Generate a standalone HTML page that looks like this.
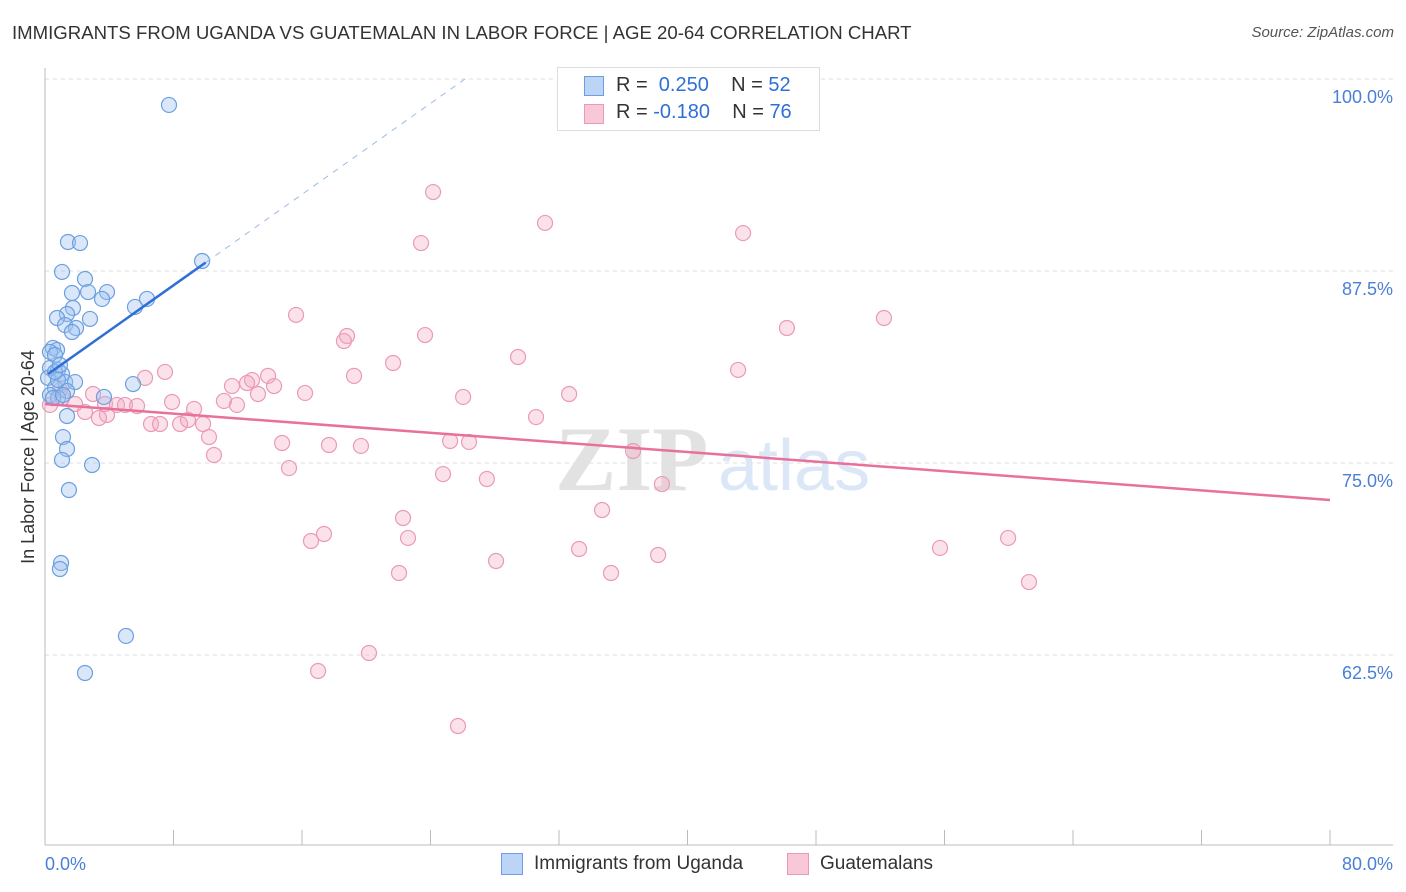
<!DOCTYPE html>
<html><head><meta charset="utf-8"><style>
body{margin:0;background:#fff;font-family:"Liberation Sans",sans-serif;}
#wrap{position:relative;width:1406px;height:892px;overflow:hidden;}
.t{position:absolute;white-space:nowrap;}
</style></head><body>
<div id="wrap">
<div class="t" style="left:12px;top:22px;font-size:18.6px;color:#333;">IMMIGRANTS FROM UGANDA VS GUATEMALAN IN LABOR FORCE | AGE 20-64 CORRELATION CHART</div>
<div class="t" style="right:12px;top:24px;font-size:15px;color:#555;font-style:italic;">Source: ZipAtlas.com</div>
<svg id="svg" width="1406" height="892" style="position:absolute;left:0;top:0;"></svg>
</div>
<script>
const blueX=[7.72,1.43,2.18,1.06,2.49,1.68,2.68,3.86,3.55,6.35,1.74,5.60,1.37,0.75,2.80,1.25,1.93,1.68,0.50,0.75,0.31,0.62,0.31,0.81,1.06,0.19,1.25,1.87,5.48,0.62,1.37,0.31,3.67,0.81,1.37,1.12,1.37,1.06,2.93,1.49,1.00,0.93,5.04,2.49,9.78,0.50,0.81,0.62,0.93,1.12];
const blueY=[98.31,89.39,89.32,87.44,86.98,86.07,86.13,86.13,85.68,85.68,85.09,85.16,84.70,84.44,84.38,83.98,83.79,83.53,82.49,82.36,82.23,82.03,81.19,81.06,80.80,80.54,80.27,80.27,80.14,79.88,79.69,79.43,79.30,79.23,78.06,76.69,75.91,75.20,74.87,73.24,68.49,68.10,63.74,61.33,88.15,79.23,80.40,80.93,81.38,79.43];
const pinkX=[24.16,31.13,43.46,23.41,15.63,46.19,52.23,23.66,18.80,18.61,29.45,21.67,43.15,7.47,19.24,6.23,13.89,12.89,12.58,11.64,14.26,13.26,16.19,2.99,26.03,32.63,7.91,11.14,3.74,4.48,4.98,5.73,9.28,11.95,1.87,1.06,2.49,3.86,3.36,30.57,6.60,7.16,8.41,8.90,9.84,10.21,14.76,17.68,19.67,25.22,26.40,36.61,10.52,15.19,24.78,27.51,38.41,34.68,22.29,17.37,16.56,22.60,33.25,38.17,28.08,22.04,35.24,55.72,59.96,61.26,20.17,17.00,25.71,0.31,0.93];
const pinkY=[92.64,90.63,89.97,89.32,84.64,83.79,84.44,83.33,83.27,82.94,81.90,81.51,81.06,80.93,80.67,80.54,80.67,80.40,80.21,80.01,80.01,79.49,79.56,79.49,79.30,79.49,78.97,79.04,78.84,78.78,78.78,78.71,78.52,78.78,78.84,79.23,78.32,78.13,77.93,77.99,77.54,77.54,77.54,77.80,77.54,76.69,76.30,76.17,76.11,76.43,76.37,75.78,75.52,74.67,74.28,73.96,73.63,71.94,71.42,70.38,69.92,70.12,69.40,69.01,68.62,67.84,67.84,69.47,70.12,67.25,62.63,61.46,57.88,78.78,79.75];
const yTicks=[100,87.5,75,62.5];
const yTickLabels=["100.0%","87.5%","75.0%","62.5%"];
const blueTrend=[80.65,0.74]; // intercept, slope
const pinkTrend=[78.84,-0.0781];
const X=v=>45+v/80*1285, Y=v=>79+(100-v)/12.5*192;
const NS="http://www.w3.org/2000/svg", svg=document.getElementById('svg');
function mk(t,a){const e=document.createElementNS(NS,t);for(const k in a)e.setAttribute(k,a[k]);svg.appendChild(e);return e;}
yTicks.forEach((v,i)=>{
 const g=mk('line',{x1:45,x2:1393,y1:Y(v),y2:Y(v),stroke:'#ddd','stroke-dasharray':'4,4'});
 
 
 const t=mk('text',{x:1393,y:Y(v)+24,'text-anchor':'end','font-size':18,fill:'#4a7fd6'});
 t.textContent=yTickLabels[i];
 
 
});
const ax=mk('line',{x1:45,x2:45,y1:68,y2:845,stroke:'#bbb'});


const bx=mk('line',{x1:45,x2:1393,y1:845,y2:845,stroke:'#bbb'});


for(let i=0;i<=10;i++){const l=mk('line',{x1:X(i*8),x2:X(i*8),y1:830,y2:845,stroke:'#bbb'});
 
 }
[["0.0%",45,'start'],["80.0%",1393,'end']].forEach(a=>{const t=mk('text',{x:a[1],y:870,'text-anchor':a[2],'font-size':18,fill:'#4a7fd6'});t.textContent=a[0];
 
 });
const yt=mk('text',{x:0,y:0,'font-size':18,fill:'#333','text-anchor':'middle',transform:'translate(34,457) rotate(-90)'});
yt.textContent='In Labor Force | Age 20-64';


const w1=mk('text',{x:555,y:490,'font-size':92,fill:'#e2e2e2','font-weight':'bold','font-family':'Liberation Serif'});w1.textContent='ZIP';


const w2=mk('text',{x:718,y:490,'font-size':72,fill:'#dbe6f7'});w2.textContent='atlas';


pinkX.forEach((v,i)=>{const c=mk('circle',{cx:X(v),cy:Y(pinkY[i]),r:7.5,fill:'rgba(244,170,196,0.35)',stroke:'#ea9ab8','stroke-width':1.2});
 
 });
blueX.forEach((v,i)=>{const c=mk('circle',{cx:X(v),cy:Y(blueY[i]),r:7.5,fill:'rgba(160,196,240,0.4)',stroke:'#6b9fe0','stroke-width':1.2});
 
 });
const bEnd=(100-blueTrend[0])/blueTrend[1];
const bd=mk('line',{x1:X(10),y1:Y(blueTrend[0]+blueTrend[1]*10),x2:X(bEnd),y2:Y(100),stroke:'#9bbbe8','stroke-dasharray':'6,6'});


const bl=mk('line',{x1:X(0.2),y1:Y(blueTrend[0]+blueTrend[1]*0.2),x2:X(10),y2:Y(blueTrend[0]+blueTrend[1]*10),stroke:'#2f6fd6','stroke-width':2.5});


const pl=mk('line',{x1:X(0),y1:Y(pinkTrend[0]),x2:X(80),y2:Y(pinkTrend[0]+pinkTrend[1]*80),stroke:'#e8709a','stroke-width':2.5});


</script>
<div class="t" style="left:557px;top:67px;width:261px;height:62px;border:1px solid #ddd;background:#fff;font-size:20px;">
 <div style="position:absolute;left:26px;top:8px;width:18px;height:18px;background:#bcd4f6;border:1px solid #6b9fe0;"></div>
 <div class="t" style="left:58px;top:6px;color:#333;">R = <span style="color:#2f6fd6">&nbsp;0.250</span>&nbsp;&nbsp;&nbsp; N = <span style="color:#2f6fd6">52</span></div>
 <div style="position:absolute;left:26px;top:36px;width:18px;height:18px;background:#f8c8d8;border:1px solid #ea9ab8;"></div>
 <div class="t" style="left:58px;top:33px;color:#333;">R = <span style="color:#2f6fd6">-0.180</span>&nbsp;&nbsp;&nbsp; N = <span style="color:#2f6fd6">76</span></div>
</div>
<div class="t" style="left:501px;top:853px;width:20px;height:20px;background:#bcd4f6;border:1px solid #6b9fe0;"></div>
<div class="t" style="left:534px;top:853px;font-size:19px;color:#333;">Immigrants from Uganda</div>
<div class="t" style="left:787px;top:853px;width:20px;height:20px;background:#f8c8d8;border:1px solid #ea9ab8;"></div>
<div class="t" style="left:820px;top:853px;font-size:19px;color:#333;">Guatemalans</div>
</body></html>
